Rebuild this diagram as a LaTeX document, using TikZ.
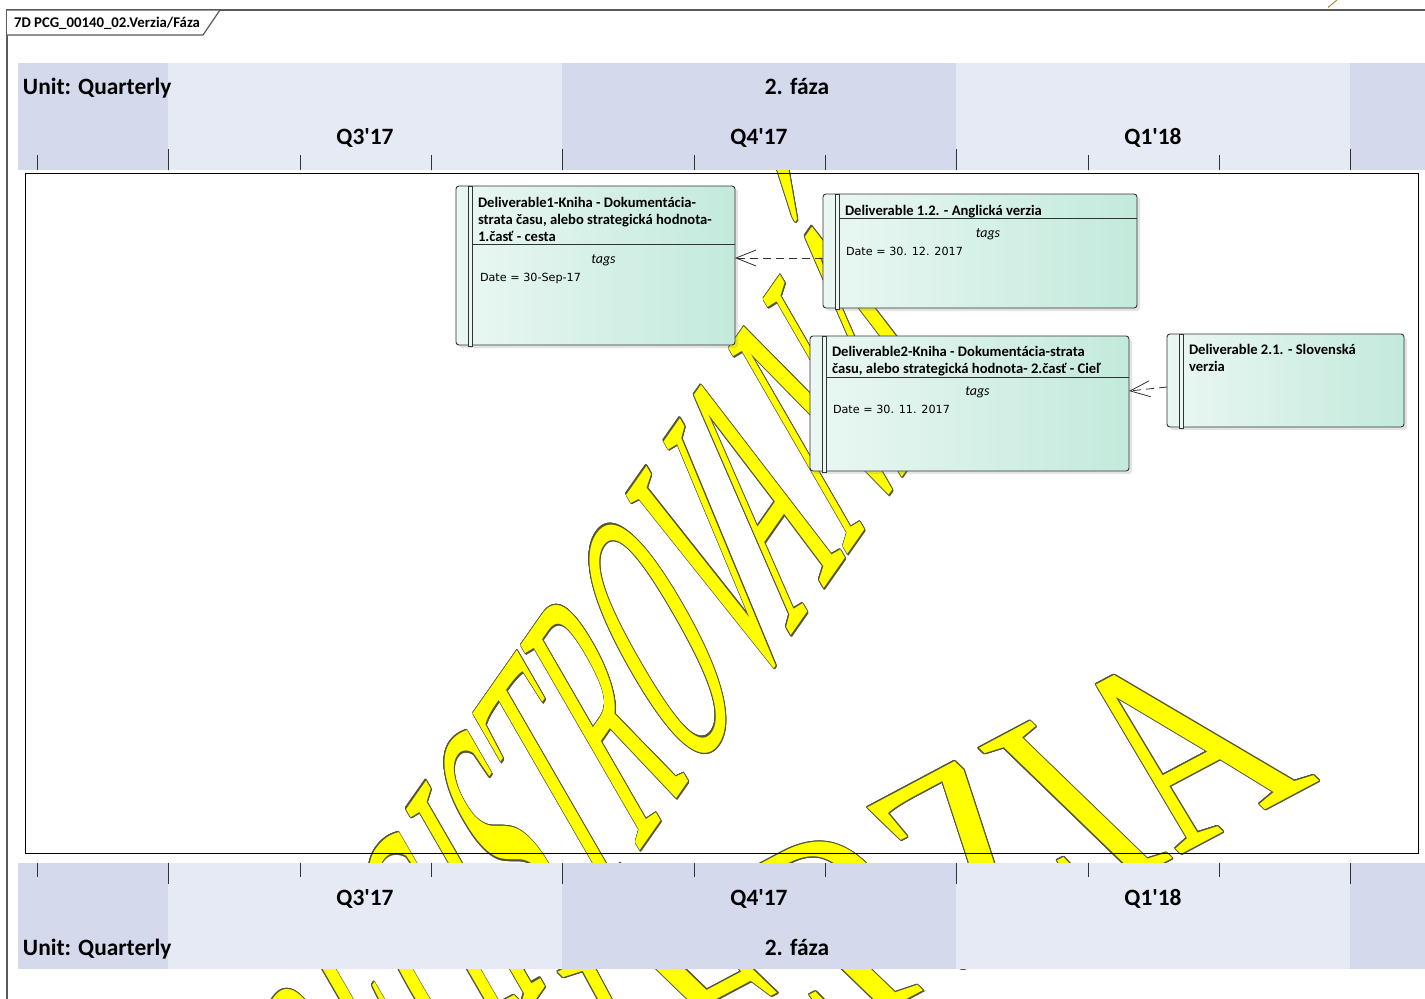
\documentclass[tikz,border=0pt]{standalone}
\usepackage{fontspec}
\setmainfont{Carlito}
\newfontfamily\datefont{DejaVu Sans}
\newfontfamily\wmfont{Liberation Serif}
\usepackage{contour}
\contourlength{0.45pt}
\usetikzlibrary{positioning, arrows.meta, calc, shadows}
\definecolor{frameGray}{HTML}{5A5A5A}
\definecolor{bandDark}{HTML}{D4DAEB}
\definecolor{bandLight}{HTML}{E6EAF4}
\definecolor{boxLeft}{HTML}{EAF7F2}
\definecolor{boxRight}{HTML}{C3EADC}
\definecolor{boxEdge}{HTML}{333333}
\definecolor{wmYellow}{HTML}{FFFF00}
\definecolor{wmEdge}{HTML}{55553A}
\definecolor{noteBrown}{HTML}{B08A3E}

\begin{document}
\begin{tikzpicture}[
  x=1pt, y=-1pt,
  every node/.style={inner sep=0pt, outer sep=0pt},
  deliv/.style 2 args={
    rectangle, rounded corners=3pt, anchor=north west,
    minimum width=#1, minimum height=#2,
    draw=boxEdge, line width=0.9pt,
    left color=boxLeft, right color=boxRight,
    drop shadow={shadow xshift=3pt, shadow yshift=-3pt, opacity=0.22}
  },
  stripe/.style={draw=boxEdge, line width=0.9pt, fill=boxLeft},
  sepline/.style={boxEdge, line width=0.9pt},
  ttl/.style={font=\bfseries\fontsize{14.6}{17}\selectfont, align=left, anchor=north west},
  tagtxt/.style={font=\itshape\fontsize{14}{17}\selectfont, anchor=base},
  datetxt/.style={font=\datefont\fontsize{11.2}{14}\selectfont, anchor=base west},
  bandlbl/.style={font=\bfseries\fontsize{23.4}{28}\selectfont},
  tick/.style={boxEdge, line width=1pt},
  frame/.style={draw=frameGray, line width=1.2pt},
  dep/.style={boxEdge, line width=0.8pt, dash pattern=on 8pt off 5pt,
    -{Straight Barb[length=20pt, width=16pt]}},
  wmark/.style={text=wmYellow, font=\wmfont\fontsize{100}{100}\selectfont,
    transform shape, anchor=base east}
]
\useasboundingbox (0,0) rectangle (1425,999);
\fill[white] (0,0) rectangle (1425,999);

% Watermark
\begin{scope}
  \clip (0,0) rectangle (1425,999);
  \begin{scope}[shift={(957,399)}, cm={0.769,1.098,-1.815,3.144,(0,0)}]
    \node[wmark] (wm1) at (0,0) {\contour{wmEdge}{NEREGISTROVANÁ}};
  \end{scope}
  \begin{scope}[shift={(1321,780)}, cm={1.960,1.041,-2.171,2.099,(0,0)}]
    \node[wmark] (wm2) at (0,0) {\contour{wmEdge}{VERZIA}};
  \end{scope}
\end{scope}

% Diagram frame
\draw[frame] (7,999) -- (7,10) -- (1425,10);
\draw[frame, fill=white] (7,10) -- (220,10) -- (203,35) -- (7,35);
\node[font=\bfseries\fontsize{14.8}{17}\selectfont, anchor=base west] (tab) at (14,27) {7D PCG\_00140\_02.Verzia/Fáza};
\draw[noteBrown, line width=1pt] (1328,7.5) -- (1337,0);

% Timeline bands
\foreach \yt/\yb in {63/170, 863/969} {
  \fill[bandDark] (18,\yt) rectangle (168,\yb);
  \fill[bandLight] (168,\yt) rectangle (562,\yb);
  \fill[bandDark] (562,\yt) rectangle (956,\yb);
  \fill[bandLight] (956,\yt) rectangle (1350,\yb);
  \fill[bandDark] (1350,\yt) rectangle (1425,\yb);
}
\foreach \x in {37,300,431,694,825,1088,1219} {
  \draw[tick] (\x,155) -- (\x,170);
  \draw[tick] (\x,863) -- (\x,877);
}
\foreach \x in {168,562,956,1350} {
  \draw[tick] (\x,149) -- (\x,170);
  \draw[tick] (\x,863) -- (\x,884);
}

% Band labels
\node[bandlbl, anchor=base west] (unitT) at (23,94) {Unit: Quarterly};
\node[bandlbl, anchor=base] (phaseT) at (797,94) {2. fáza};
\node[bandlbl, anchor=base west] (unitB) at (23,955) {Unit: Quarterly};
\node[bandlbl, anchor=base] (phaseB) at (797,955) {2. fáza};
\foreach \q/\x [count=\i] in {Q3\textquotesingle17/365, Q4\textquotesingle17/759, Q1\textquotesingle18/1153} {
  \node[bandlbl, anchor=base] (qT\i) at (\x,144) {\q};
  \node[bandlbl, anchor=base] (qB\i) at (\x,905) {\q};
}

% Swimlane area
\draw[black, line width=0.9pt] (25,173) rectangle (1418,853);

% Deliverables
\node[deliv={279pt}{159pt}] (d1) at (456,186) {};
\node[deliv={314pt}{114pt}] (d12) at (823,194) {};
\node[deliv={319pt}{135pt}] (d2) at (810,336) {};
\node[deliv={237pt}{93pt}] (d21) at (1167,334) {};

\foreach \b in {d1,d12,d2,d21} {
  \draw[stripe] ([xshift=12.5pt]\b.north west) rectangle ([xshift=16pt,yshift=-1.5pt]\b.south west);
}
\draw[sepline] ([xshift=16pt,yshift=-58pt]d1.north west) -- ([yshift=-58pt]d1.north east);
\draw[sepline] ([xshift=16pt,yshift=-24pt]d12.north west) -- ([yshift=-24pt]d12.north east);
\draw[sepline] ([xshift=16pt,yshift=-41pt]d2.north west) -- ([yshift=-41pt]d2.north east);

% Titles
\node[ttl, below right=11pt and 22pt of d1.north west] (d1t)
  {Deliverable1-Kniha - Dokumentácia-\\strata času, alebo strategická hodnota-\\1.časť - cesta};
\node[ttl, below right=11pt and 22pt of d12.north west] (d12t)
  {Deliverable 1.2. - Anglická verzia};
\node[ttl, below right=10.5pt and 22pt of d2.north west] (d2t)
  {Deliverable2-Kniha - Dokumentácia-strata\\času, alebo strategická hodnota- 2.časť - Cieľ};
\node[ttl, below right=10.5pt and 22pt of d21.north west] (d21t)
  {Deliverable 2.1. - Slovenská\\verzia};

% Tagged values
\node[tagtxt] (d1g) at ($(d1.north)+(8,77)$) {tags};
\node[datetxt] (d1d) at ($(d1.north west)+(24,95)$) {Date = 30-Sep-17};
\node[tagtxt] (d12g) at ($(d12.north)+(8,43)$) {tags};
\node[datetxt] (d12d) at ($(d12.north west)+(23,61)$) {Date = 30. 12. 2017};
\node[tagtxt] (d2g) at ($(d2.north)+(8,59)$) {tags};
\node[datetxt] (d2d) at ($(d2.north west)+(23,77)$) {Date = 30. 11. 2017};

% Dependencies
\draw[dep] ([yshift=-7pt]d12.west) -- ([yshift=7.5pt]d1.east);
\draw[dep] ([yshift=-6.5pt]d21.west) -- ([yshift=12.5pt]d2.east);

\end{tikzpicture}
\end{document}
